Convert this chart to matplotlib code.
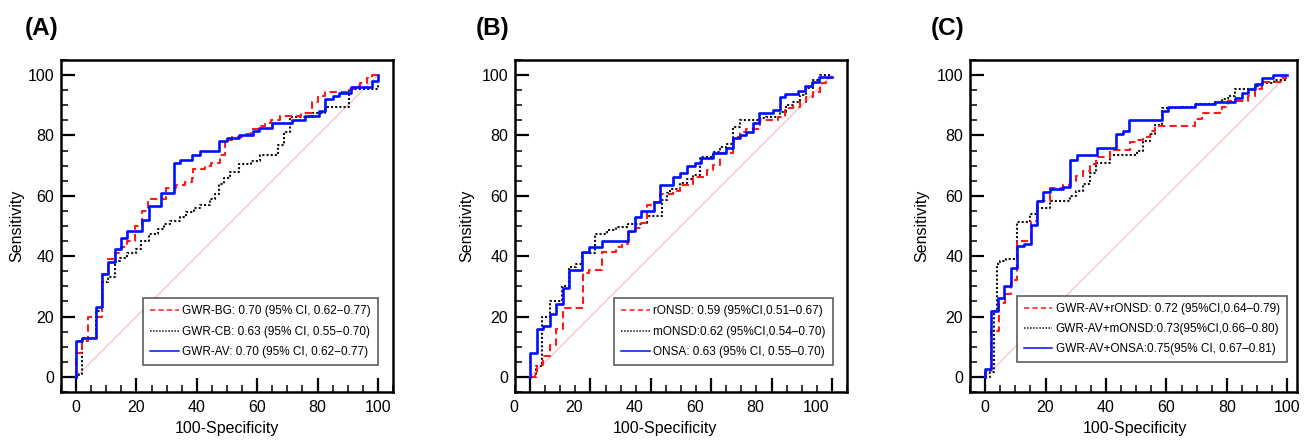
import matplotlib
matplotlib.use("Agg")
import matplotlib.pyplot as plt
from matplotlib.ticker import MultipleLocator
from matplotlib.transforms import ScaledTranslation

plt.rcParams['font.family'] = ['Liberation Sans', 'DejaVu Sans']

# ---- ROC step vertices: x = 100-specificity where sensitivity jumps, y = level after the jump ----
# (A)
a_bg_x = [0, 0, 2, 4, 8.5, 10.5, 13, 15, 17, 19.5, 21.7, 23.9, 29.7, 33, 36, 38.5, 38.8, 42.6, 44.8, 47.6,
          49.5, 51.5, 55, 58, 60.5, 62.5, 64.5, 67.5, 74.5, 78, 80.2, 82.5, 90, 92, 94, 96.5, 98, 100]
a_bg_y = [0, 8, 12, 20, 34, 39, 41, 43, 45, 50, 55, 59, 62.5, 63.5, 64.5, 66, 69, 70, 71, 73.5,
          78.5, 79.5, 80.5, 82, 83, 84, 85, 86.5, 87.5, 91, 93, 94.5, 95.5, 96.5, 97.5, 99, 100, 100]
a_cb_x = [0, 1, 2, 6.5, 8.5, 10.5, 13, 14.5, 17, 20, 21.5, 24, 27, 29, 31, 34.5, 36.5, 39, 41, 44.5,
          46, 47.5, 49, 51, 54, 58, 61, 67, 69, 71, 78, 82.5, 90.5, 100]
a_cb_y = [0, 1, 13, 22, 31.5, 33, 38.5, 39.5, 41, 42.5, 45, 47.5, 49, 50.5, 51.5, 53, 54.5, 56, 57, 59,
          60.5, 64, 66, 68, 70.5, 71.5, 73.5, 77, 81, 86, 87.5, 89.5, 95.5, 97.5]
a_av_x = [0, 0, 2, 6.5, 8.5, 10.5, 13, 15, 17, 22, 24, 28, 32.5, 34.5, 38.5, 41, 47.5, 50, 54, 58.5,
          60.5, 65, 71.5, 76, 80.5, 82.5, 85, 87, 91, 98, 100]
a_av_y = [0, 12, 13, 23, 34, 38, 42.5, 46, 48.5, 52, 56.5, 61, 71, 72, 73.5, 75, 78, 79, 80, 81.5,
          82.5, 84, 85, 86.5, 88, 92, 93, 94, 96, 98, 100]

# (B)
b_r_x = [0, 1.5, 2.2, 4.4, 6.5, 8.6, 11, 17.4, 19.6, 23.9, 28.3, 30.5, 32.5, 34.7, 36.8, 38.8, 41, 43.2,
         47.5, 49.7, 54.1, 58.5, 60.7, 62.9, 67.3, 69.5, 71.7, 76.1, 82.1, 84.3, 87.1, 89.3, 91.5, 93.7,
         95.9, 98.1, 100]
b_r_y = [0, 1, 4, 7, 10.5, 16, 22.7, 34.4, 35.5, 41.4, 43.1, 44.2, 48, 49.5, 51, 57, 58, 60.5,
         61.5, 63.5, 66.3, 68.5, 70.2, 74.1, 79.6, 81.2, 82.3, 85.1, 86.2, 89, 89.5, 91.2, 92.9, 94.5,
         97.3, 98.9, 99.5]
b_m_x = [0, 2, 4.1, 6.6, 10.7, 12.9, 15.1, 17.3, 21.6, 25.5, 28.5, 32.5, 36.8, 38.7, 43.6, 45.2, 46.3,
         49.7, 51.9, 54.1, 56.3, 60.7, 62.9, 65.1, 67.3, 69.5, 76.1, 78.3, 82.7, 84.9, 87.1, 89.3, 91.5,
         93.7, 95.9, 100]
b_m_y = [0, 3.5, 20, 25, 30, 36.5, 37.5, 41, 47.5, 48.8, 49.7, 50.5, 51, 53.3, 58.6, 60.8, 62.4,
         64.4, 65.7, 67, 73, 74.4, 76.3, 77.3, 82.9, 85.1, 85.7, 86.2, 87.9, 90.1, 91.2, 93.4, 95.6,
         98.4, 100, 100]
b_a_x = [0, 0, 2.2, 4.4, 6.5, 8.5, 10.8, 12.9, 17.3, 19.5, 23.8, 32.6, 34.6, 36.8, 40.9, 43.1, 47.5,
         49.7, 51.9, 54.5, 56.5, 60.6, 65, 67.3, 69.5, 71.7, 73.9, 75.9, 80.5, 82.7, 84.6, 88.7, 91.2,
         93.4, 95.6, 100]
b_a_y = [0, 8, 16, 17, 21, 24, 29.5, 35.5, 41.5, 43, 45, 48.5, 53, 55, 58, 63.5, 66.3,
         67.4, 69.8, 71, 72.5, 74.3, 76, 79, 80, 81, 84, 87.5, 88.5, 92.8, 93.7, 94.8, 96.4,
         97.8, 99.4, 99.4]

# (C)
c_r_x = [0, 0, 2.1, 4.5, 6.5, 8.7, 10.7, 15.1, 17.3, 21.4, 25.8, 28, 30.2, 32.4, 34.6, 36.8, 41.2,
         47.8, 50.1, 52.3, 54.5, 56.2, 69.5, 71.7, 78.3, 80.5, 87.1, 89.3, 91.5, 98.1, 100]
c_r_y = [0, 1.5, 15.3, 24.6, 27.4, 32.1, 45.1, 51.5, 58.3, 62.5, 63.6, 65, 66.6, 68.1, 70.5, 72.7, 75.2,
         77.7, 78.5, 79.5, 81.5, 83.2, 85.4, 87.6, 89.3, 91.5, 93.2, 95.4, 97.6, 99.2, 99.2]
c_m_x = [0, 1.5, 2.8, 3.9, 5, 7, 10.5, 14.9, 17.1, 21.5, 28, 30.2, 32.4, 34.6, 36.8, 41.2, 50.1,
         52.3, 54.5, 56.2, 58.4, 65, 69.5, 76.1, 78.3, 80.5, 82.7, 89.3, 91.5, 95.5, 100]
c_m_y = [0, 1.5, 22, 37.3, 38.5, 39, 51.2, 53.9, 56.1, 58.3, 60, 61.5, 63.9, 67.5, 70.8, 73.5, 75,
         78.2, 80.4, 83.5, 89, 89.5, 90.5, 91, 92, 93, 95.5, 96.5, 97.5, 98.5, 98.5]
c_a_x = [0, 0, 1.9, 4.1, 6.3, 8.5, 10.7, 12.9, 15.1, 17.3, 19.3, 21.5, 25.9, 28.1, 30.3, 36.9, 43.3,
         45.5, 47.7, 58.4, 60.6, 69.5, 76.1, 82.7, 84.9, 87.1, 89.3, 91.5, 95.4, 100]
c_a_y = [0, 2.5, 22, 26.3, 30.2, 36.2, 43.4, 44, 50.3, 58.3, 61.1, 62.2, 62.8, 71.8, 73.6, 76, 80.4,
         81.5, 85, 88, 89.3, 90.5, 91.2, 92.5, 94, 95.5, 97, 99.2, 100, 100]

labels_a = ["GWR-BG: 0.70 (95% CI, 0.62\u22120.77)",
            "GWR-CB: 0.63 (95% CI, 0.55\u22120.70)",
            "GWR-AV: 0.70 (95% CI, 0.62\u22120.77)"]
labels_b = ["rONSD: 0.59 (95%CI,0.51\u20130.67)",
            "mONSD:0.62 (95%CI,0.54\u20130.70)",
            "ONSA: 0.63 (95% CI, 0.55\u20130.70)"]
labels_c = ["GWR-AV+rONSD: 0.72 (95%CI,0.64\u20130.79)",
            "GWR-AV+mONSD:0.73(95%CI,0.66\u20130.80)",
            "GWR-AV+ONSA:0.75(95% CI, 0.67\u20130.81)"]
ticks = [0, 20, 40, 60, 80, 100]

STYLES = [dict(color="#ff1a1a", ls=(0, (3.5, 2)), lw=1.5, zorder=3),
          dict(color="#111111", ls=(0, (1, 1)), lw=1.5, zorder=2),
          dict(color="#0010ff", ls="-", lw=1.9, zorder=4)]

fig = plt.figure(figsize=(13.08, 4.41), dpi=100)
H = 441.0
W = 1308.0


def panel(left, width, curves, labels, xmax, leg_anchor, ylab_x, xlab_x, tag, tag_x, shift=0.0):
    ax = fig.add_axes([left / W, 49 / H, width / W, 332 / H])
    ax.plot([0, 100], [0, 100], color="#f3a5a5", lw=0.6, zorder=1)
    for (x, y), lab, st in zip(curves, labels, STYLES):
        ax.plot(x, y, drawstyle="steps-post", label=lab, **st)
    ax.set_xlim(-5, xmax)
    ax.set_ylim(-5, 105)
    ax.set_xticks(ticks)
    ax.set_yticks(ticks)
    ax.xaxis.set_minor_locator(MultipleLocator(5))
    ax.yaxis.set_minor_locator(MultipleLocator(5))
    ax.tick_params(which="both", direction="in", top=False, right=False, labelsize=11.5)
    ax.tick_params(which="major", length=10, width=1.6)
    ax.tick_params(which="minor", length=5, width=1.1)
    ax.tick_params(axis="y", pad=5)
    ax.tick_params(axis="x", pad=6)
    for s in ax.spines.values():
        s.set_linewidth(1.8)
    if shift:
        off = ScaledTranslation(shift, 0, fig.dpi_scale_trans)
        for t in ax.get_xticklabels():
            t.set_transform(t.get_transform() + off)
    ax.set_ylabel("Sensitivity", fontsize=11.5)
    ax.yaxis.set_label_coords(ylab_x, 0.5)
    ax.set_xlabel("100-Specificity", fontsize=11.5)
    ax.xaxis.set_label_coords(xlab_x, -0.088)
    leg = ax.legend(loc="lower right", bbox_to_anchor=leg_anchor, fontsize=8.5, frameon=True,
                    fancybox=False, borderaxespad=0, handlelength=2.4, handletextpad=0.3,
                    labelspacing=0.7, borderpad=0.6)
    leg.get_frame().set_edgecolor("#333333")
    leg.get_frame().set_linewidth(1.2)
    for ln in leg.get_lines():
        ln.set_linewidth(1.1)
    fig.text(tag_x / W, 1 - 28 / H, tag, fontsize=17.5, fontweight="bold", ha="left", va="center")
    return ax


panel(61, 332, [(a_bg_x, a_bg_y), (a_cb_x, a_cb_y), (a_av_x, a_av_y)], labels_a, 105,
      (0.955, 0.081), -0.111, 0.5, "(A)", 25)
panel(515, 332, [(b_r_x, b_r_y), (b_m_x, b_m_y), (b_a_x, b_a_y)], labels_b, 105,
      (0.957, 0.081), -0.123, 0.452, "(B)", 476, shift=-0.16)
panel(970, 327, [(c_r_x, c_r_y), (c_m_x, c_m_y), (c_a_x, c_a_y)], labels_c, 103.2,
      (0.969, 0.089), -0.126, 0.505, "(C)", 931)

fig.savefig("out.png", dpi=100)
